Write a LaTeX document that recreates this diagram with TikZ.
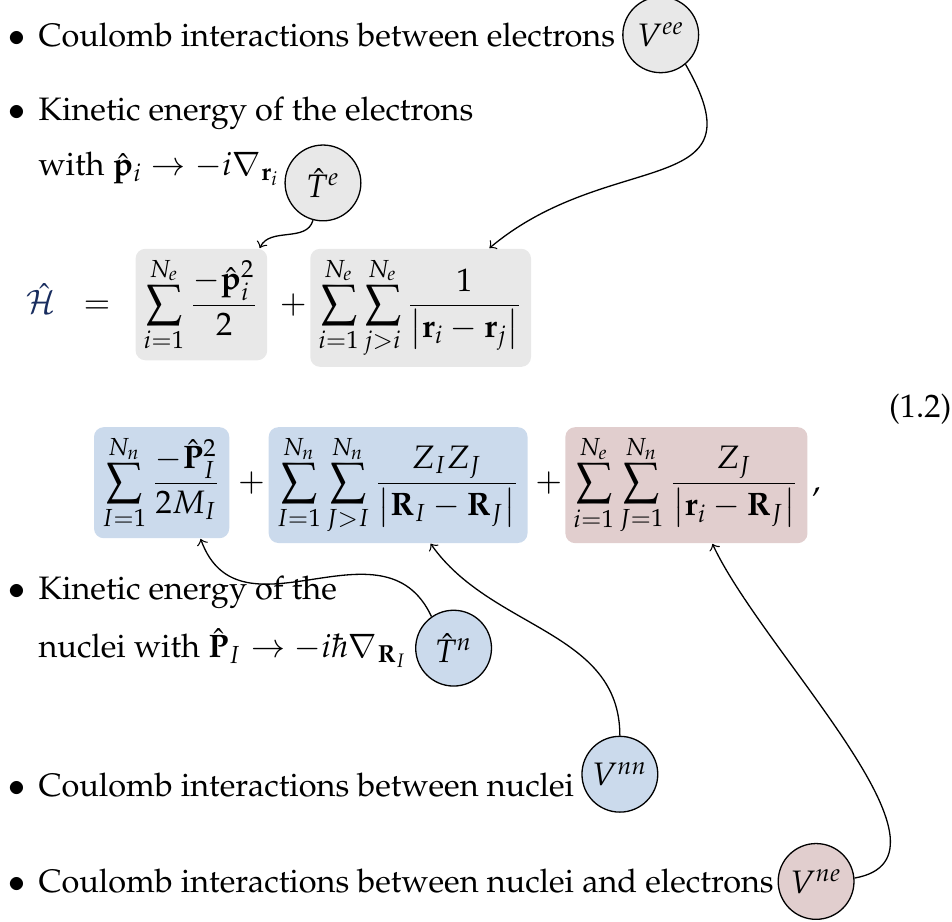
\documentclass[tikz,border=0pt]{standalone}
\usepackage[T1]{fontenc}
\usepackage{mathpazo}
\usepackage{amsmath}
\usetikzlibrary{positioning}
\definecolor{eegray}{RGB}{232,232,232}
\definecolor{nnblue}{RGB}{203,218,236}
\definecolor{nered}{RGB}{225,206,206}
\definecolor{hamblue}{RGB}{25,45,95}
\tikzset{
  TB/.style={rectangle,rounded corners=3pt,inner sep=2.5pt},
  GB/.style={TB,fill=eegray},
  BB/.style={TB,fill=nnblue},
  RB/.style={TB,fill=nered},
  CI/.style={circle,draw,thin,minimum size=0.82cm,inner sep=1pt},
  IT/.style={anchor=base west,inner sep=0pt},
  BL/.style={anchor=base,inner sep=0pt},
  OP/.style={inner sep=0pt},
  AR/.style={->,thin},
}

\begin{document}
\begin{tikzpicture}
\useasboundingbox (0,0) rectangle (10.3,-9.97);

% items, upper part
\node[BL](b1) at (0.18,-0.50){$\bullet$};
\node[IT](lee) at (0.41,-0.50){Coulomb interactions between electrons};
\node[BL](b2) at (0.18,-1.30){$\bullet$};
\node[IT](lte) at (0.41,-1.30){Kinetic energy of the electrons};
\node[IT](lte2) at (0.41,-1.90){with $\hat{\mathbf{p}}_i\rightarrow -i\nabla_{\mathbf{r}_i}$};

\node[CI,fill=eegray,right=2pt of lee](vee){$V^{ee}$};
\node[CI,fill=eegray,right=1pt of lte2,yshift=-0.15cm](te){$\hat{T}^{e}$};

% Hamiltonian, row 1
\node[OP,anchor=base west](ham) at (0.27,-3.39){$\color{hamblue}\hat{\mathcal{H}}$};
\node[OP,base right=0.29cm of ham](eq){$=$};
\node[GB,anchor=base west](b1k) at (1.46,-3.39){$\displaystyle\sum_{i=1}^{N_e}\frac{-\hat{\mathbf{p}}_i^2}{2}$};
\node[OP,base right=0.12cm of b1k](p1){$+$};
\node[GB,anchor=base west](b2c) at (3.35,-3.39){$\displaystyle\sum_{i=1}^{N_e}\sum_{j>i}^{N_e}\frac{1}{\left|\mathbf{r}_i-\mathbf{r}_j\right|}$};

% Hamiltonian, row 2
\node[BB,anchor=base west](b3k) at (1.01,-5.32){$\displaystyle\sum_{I=1}^{N_n}\frac{-\hat{\mathbf{P}}_I^2}{2M_I}$};
\node[OP,base right=0.08cm of b3k](p2){$+$};
\node[BB,anchor=base west](b4c) at (2.90,-5.32){$\displaystyle\sum_{I=1}^{N_n}\sum_{J>I}^{N_n}\frac{Z_IZ_J}{\left|\mathbf{R}_I-\mathbf{R}_J\right|}$};
\node[OP,base right=0.07cm of b4c](p3){$+$};
\node[RB,anchor=base west](b5c) at (6.11,-5.32){$\displaystyle\sum_{i=1}^{N_e}\sum_{J=1}^{N_n}\frac{Z_J}{\left|\mathbf{r}_i-\mathbf{R}_J\right|}$};
\node[OP,base right=0.04cm of b5c](cm){$,$};

\node[OP,anchor=base east](eqno) at (10.3,-4.52){(1.2)};

% items, lower part
\node[BL](b3) at (0.18,-6.49){$\bullet$};
\node[IT](ltn) at (0.41,-6.49){Kinetic energy of the};
\node[IT](ltn2) at (0.41,-7.11){nuclei with $\hat{\mathbf{P}}_I\rightarrow -i\hbar\nabla_{\mathbf{R}_I}$};
\node[BL](b4) at (0.18,-8.62){$\bullet$};
\node[IT](lnn) at (0.41,-8.62){Coulomb interactions between nuclei};
\node[BL](b5) at (0.18,-9.66){$\bullet$};
\node[IT](lne) at (0.41,-9.66){Coulomb interactions between nuclei and electrons};

\node[CI,fill=nnblue,right=2pt of ltn2](tn){$\hat{T}^{n}$};
\node[CI,fill=nnblue,right=2pt of lnn,yshift=0.12cm](vnn){$V^{nn}$};
\node[CI,fill=nered,right=1pt of lne](vne){$V^{ne}$};

% arrows
\draw[AR](te.-105) to[out=-105,in=65] ([xshift=-2.5pt]b1k.north east);
\draw[AR](vee.-50) to[out=-60,in=40,looseness=1.5] ([xshift=-13pt]b2c.north east);
\draw[AR](tn.125) to[out=115,in=-70,looseness=1.2] ([xshift=12pt]b3k.south);
\draw[AR](vnn.north) to[out=90,in=-55] ([xshift=10pt]b4c.south);
\draw[AR](vne.5) to[out=10,in=-65,looseness=0.85] ([xshift=8pt]b5c.south);

\end{tikzpicture}
\end{document}
